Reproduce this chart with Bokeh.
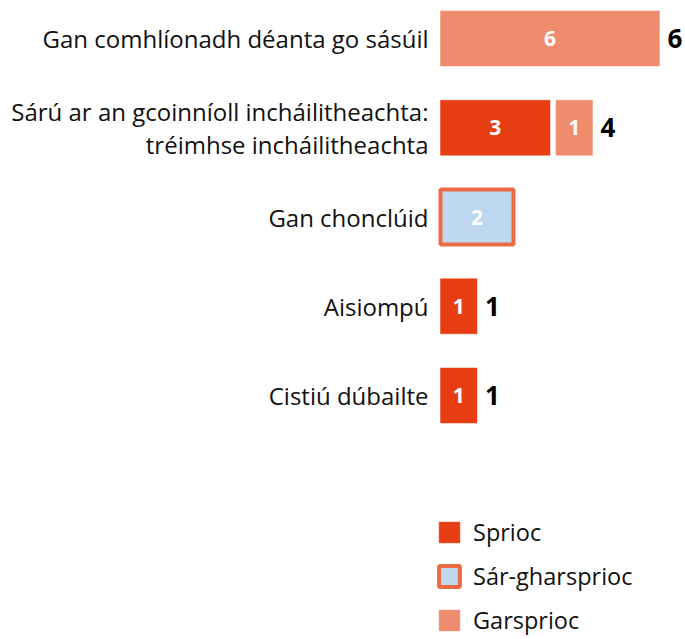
from bokeh.plotting import figure
from bokeh.models import ColumnDataSource, Range1d, Legend, LegendItem
from bokeh.core.properties import value
from bokeh.embed import file_html
from bokeh.resources import INLINE

# ---- data ----
categories = [
    "Gan comhlíonadh déanta go sásúil",
    "Sárú ar an gcoinníoll incháilitheachta:\ntréimhse incháilitheachta",
    "Gan chonclúid",
    "Aisiompú",
    "Cistiú dúbailte",
]
series_names = ["Sprioc", "Sár-gharsprioc", "Garsprioc"]
sprioc = [0, 3, 0, 1, 1]
sar_gharsprioc = [0, 0, 2, 0, 0]
garsprioc = [6, 1, 0, 0, 0]
total_labels = ["6", "4", "", "1", "1"]

# ---- layout / style ----
W, H = 685, 639
PX_PER_UNIT = 36.5
X0_PX = 440          # plot px where value 0 sits
ROW0_PX = 38         # plot px of first row centre
ROW_STEP_PX = 89.25
BAR_PX = 55
GAP_PX = 6
FONT = "Open Sans"

fill_colors = ["#E63E12", "#BDD7EE", "#F08C6E"]
line_colors = ["#E63E12", "#EE6A45", "#F08C6E"]
line_widths = [0.5, 4, 0.5]

x_range = Range1d(-X0_PX / PX_PER_UNIT, (W - X0_PX) / PX_PER_UNIT)
y_top = -ROW0_PX / ROW_STEP_PX
y_range = Range1d(y_top + H / ROW_STEP_PX, y_top)

p = figure(width=W, height=H, x_range=x_range, y_range=y_range,
           output_backend="svg", toolbar_location=None, min_border=0)
p.axis.visible = False
p.grid.visible = False
p.outline_line_color = None
p.background_fill_color = "white"

gap = GAP_PX / PX_PER_UNIT
bar_h = BAR_PX / ROW_STEP_PX
series = [sprioc, sar_gharsprioc, garsprioc]

n = len(categories)
cursor = [0.0] * n
count = [0] * n
renderers = []
for s_idx, vals in enumerate(series):
    left, right, ys, mids, labs = [], [], [], [], []
    for i, v in enumerate(vals):
        if v <= 0:
            continue
        l = cursor[i] + (gap if count[i] > 0 else 0)
        r = l + v
        left.append(l); right.append(r); ys.append(i)
        mids.append((l + r) / 2); labs.append(str(v))
        cursor[i] = r
        count[i] += 1
    src = ColumnDataSource(dict(left=left, right=right, y=ys, mid=mids, lab=labs))
    r = p.hbar(y="y", left="left", right="right", height=bar_h, source=src,
               fill_color=fill_colors[s_idx], line_color=line_colors[s_idx],
               line_width=line_widths[s_idx])
    renderers.append(r)
    p.text(x="mid", y="y", text="lab", source=src, text_align="center",
           text_baseline="middle", text_color="white", text_font=value(FONT),
           text_font_style="bold", text_font_size="21px")

# totals
tot_src = ColumnDataSource(dict(x=cursor, y=list(range(n)), t=total_labels))
p.text(x="x", y="y", text="t", source=tot_src, x_offset=8, text_align="left",
       text_baseline="middle", text_color="black", text_font=value(FONT),
       text_font_style="bold", text_font_size="26px")

# category labels
cat_src = ColumnDataSource(dict(x=[0] * n, y=list(range(n)), t=categories))
p.text(x="x", y="y", text="t", source=cat_src, x_offset=-12, text_align="right",
       text_baseline="middle", text_color="#111111", text_font=value(FONT),
       text_font_size="24px", text_line_height=1.0)

legend = Legend(items=[LegendItem(label=series_names[k], renderers=[renderers[k]])
                       for k in range(3)],
                location=(436, 3), orientation="vertical",
                glyph_width=26, glyph_height=26, label_height=26,
                spacing=12, label_standoff=11, padding=0, margin=0,
                border_line_alpha=0, background_fill_alpha=0,
                label_text_font=FONT, label_text_font_size="23.5px",
                label_text_color="#111111")
p.add_layout(legend, "center")

open("out.html", "w").write(file_html(p, INLINE))
